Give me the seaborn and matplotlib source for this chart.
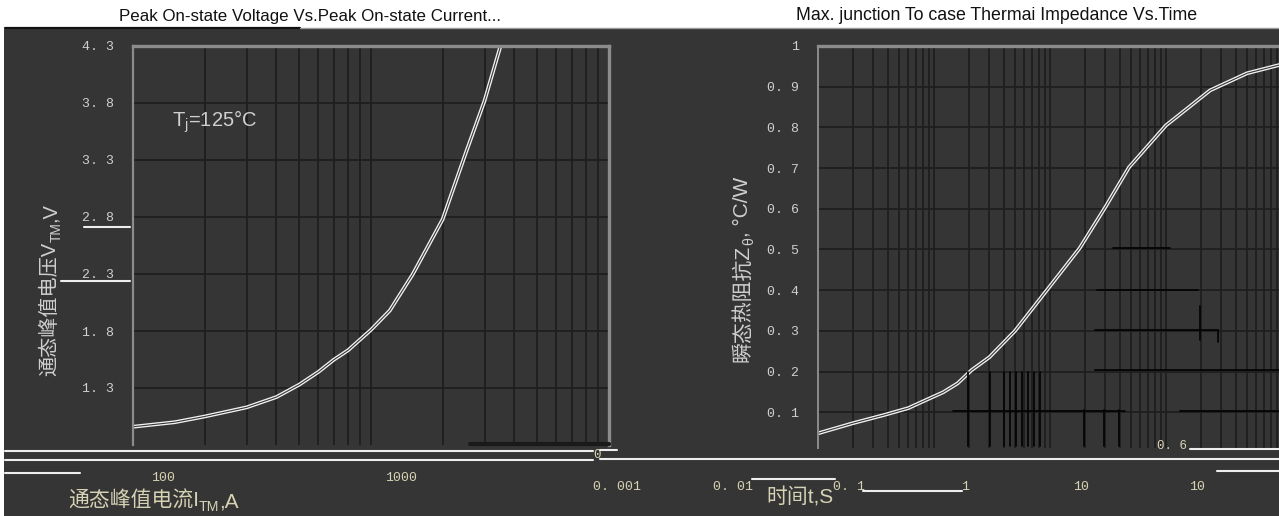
import matplotlib
matplotlib.use("Agg")
import matplotlib.pyplot as plt
import matplotlib.transforms as mtransforms
from matplotlib.lines import Line2D
from matplotlib.patches import Rectangle
from matplotlib.ticker import LogLocator, NullFormatter
import pandas as pd
import seaborn as sns

# Peak on-state voltage vs. peak on-state current, Tj = 125 °C
current_a = [100, 150, 200, 300, 400, 500, 600, 700, 800, 1000, 1200, 1500, 2000, 2500, 3000, 3500]
voltage_v = [0.96, 1.00, 1.05, 1.13, 1.22, 1.33, 1.44, 1.55, 1.63, 1.81, 1.98, 2.30, 2.78, 3.36, 3.82, 4.30]

# Transient thermal impedance, junction to case
time_s = [0.1, 0.2, 0.37, 0.6, 0.84, 1.2, 1.6, 2.1, 3.0, 5.0, 9.4, 18, 30, 48, 100, 240, 500, 1000]
zth_cw = [0.048, 0.073, 0.093, 0.110, 0.129, 0.149, 0.171, 0.203, 0.235, 0.30, 0.40, 0.503,
          0.604, 0.702, 0.805, 0.891, 0.933, 0.955]

v_ticks = [1.3, 1.8, 2.3, 2.8, 3.3, 3.8, 4.3]
v_labels = ["1. 3", "1. 8", "2. 3", "2. 8", "3. 3", "3. 8", "4. 3"]
i_ticks = [100, 1000]
i_labels = ["100", "1000"]
z_ticks = [0.1, 0.2, 0.3, 0.4, 0.5, 0.6, 0.7, 0.8, 0.9, 1.0]
z_labels = ["0. 1", "0. 2", "0. 3", "0. 4", "0. 5", "0. 6", "0. 7", "0. 8", "0. 9", "1"]
t_ticks = [0.001, 0.01, 0.1, 1, 10, 100]
t_labels = ["0. 001", "0. 01", "0. 1", "1", "10", "10"]

# axis titles as (main, subscript, tail) pieces
v_axis = ("通态峰值电压V", "TM", ",V")
i_axis = ("通态峰值电流I", "TM", ",A")
z_axis = ("瞬态热阻抗Z", "θ", ", °C/W")
t_axis = "时间t,S"

title_left = "Peak On-state Voltage Vs.Peak On-state Current..."
title_right = "Max. junction To case Thermai Impedance Vs.Time"

sns.set_theme(style="dark")
plt.rcParams["font.family"] = ["Liberation Sans", "Noto Sans CJK SC", "DejaVu Sans"]
plt.rcParams["mathtext.fontset"] = "custom"
plt.rcParams["mathtext.rm"] = "Liberation Sans"
plt.rcParams["mathtext.it"] = "Liberation Sans"

W, H = 1279, 516
DPI = 100
BG = "#353535"
GRID = "#1e1e1e"
FRAME = "#8c8c8c"
CURVE = "#f2f2f2"
TICKTXT = "#d6d2b4"
YTXT = "#cfcfcf"

fig = plt.figure(figsize=(W / DPI, H / DPI), dpi=DPI, facecolor="white")


def fx(px):
    return px / W


def fy(py):
    return 1 - py / H


# dark scanned sheet below the title strip
fig.add_artist(Rectangle((fx(4), 0), 1, fy(29), transform=fig.transFigure,
                         facecolor=BG, edgecolor="none", zorder=0))

ax1 = fig.add_axes([fx(133), fy(445), fx(609 - 133), (445 - 46) / H])
ax2 = fig.add_axes([fx(818), fy(448), fx(1282 - 818), (448 - 46) / H])

df_v = pd.DataFrame({"I": current_a, "V": voltage_v})
df_z = pd.DataFrame({"t": time_s, "Z": zth_cw})

for ax in (ax1, ax2):
    ax.set_facecolor(BG)
    ax.set_xscale("log")
    ax.xaxis.set_major_locator(LogLocator(base=10))
    ax.xaxis.set_minor_locator(LogLocator(base=10, subs=range(2, 10)))
    ax.xaxis.set_minor_formatter(NullFormatter())
    ax.grid(True, which="both", axis="x", color=GRID, lw=1.3)
    ax.grid(True, which="major", axis="y", color=GRID, lw=1.3)
    ax.tick_params(axis="x", which="both", length=0, labelbottom=False)
    ax.tick_params(axis="y", which="major", direction="in", length=5, width=1.3,
                   color="#111111", labelcolor=YTXT, labelsize=9.5)


def vertical_label(x_px, y_bottom_px, parts, color, size):
    main, sub, tail = parts
    r = fig.canvas.get_renderer()
    t1 = fig.text(fx(x_px), fy(y_bottom_px), main, rotation=90, ha="center", va="bottom",
                  color=color, fontsize=size)
    b1 = t1.get_window_extent(r)
    t2 = fig.text(b1.x1 + 4, b1.y1, sub, rotation=90, ha="right", va="bottom", color=color,
                  fontsize=size * 0.68, transform=mtransforms.IdentityTransform())
    b2 = t2.get_window_extent(r)
    fig.text(b1.x1, b2.y1, tail, rotation=90, ha="right", va="bottom", color=color,
             fontsize=size, transform=mtransforms.IdentityTransform())


def horizontal_label(x_left_px, y_px, parts, color, size):
    main, sub, tail = parts
    r = fig.canvas.get_renderer()
    t1 = fig.text(fx(x_left_px), fy(y_px), main, ha="left", va="baseline",
                  color=color, fontsize=size)
    b1 = t1.get_window_extent(r)
    base_y = fig.transFigure.transform((0, fy(y_px)))[1]
    t2 = fig.text(b1.x1, base_y - 4, sub, ha="left", va="baseline", color=color,
                  fontsize=size * 0.68, transform=mtransforms.IdentityTransform())
    b2 = t2.get_window_extent(r)
    fig.text(b2.x1, base_y, tail, ha="left", va="baseline", color=color, fontsize=size,
             transform=mtransforms.IdentityTransform())


# left panel: double-stroke curve
sns.lineplot(data=df_v, x="I", y="V", ax=ax1, color=CURVE, lw=2.7, sort=False)
sns.lineplot(data=df_v, x="I", y="V", ax=ax1, color=BG, lw=0.8, sort=False)
ax1.set_xlim(100, 10000)
ax1.set_ylim(0.80, 4.30)
ax1.set_yticks(v_ticks, v_labels, family="Liberation Mono")
ax1.tick_params(axis="y", pad=14)
ax1.spines["top"].set(color=FRAME, lw=2.4, visible=True)
ax1.spines["right"].set(color=FRAME, lw=2.4, visible=True)
ax1.spines["left"].set(color=FRAME, lw=1.6, visible=True)
ax1.spines["bottom"].set_visible(False)
ax1.set_xlabel("")
ax1.set_ylabel("")
ax1.text(0.082, 0.81, r"T$_\mathregular{j}$=125°C", transform=ax1.transAxes, color="#cfcfcf",
         fontsize=14.5, ha="left", va="center")

off1 = mtransforms.ScaledTranslation(30 / DPI, 0, fig.dpi_scale_trans)
tr1 = mtransforms.blended_transform_factory(ax1.transData, ax1.transAxes) + off1
for val, lab in zip(i_ticks, i_labels):
    ax1.text(val, -0.083, lab, transform=tr1, color=TICKTXT, fontsize=9.5,
             family="Liberation Mono", ha="center", va="center")

# right panel
sns.lineplot(data=df_z, x="t", y="Z", ax=ax2, color=CURVE, lw=2.7, sort=False)
sns.lineplot(data=df_z, x="t", y="Z", ax=ax2, color=BG, lw=0.8, sort=False)
ax2.set_xlim(0.1, 1000)
ax2.set_ylim(0.012, 1.0)
ax2.set_yticks(z_ticks, z_labels, family="Liberation Mono")
ax2.tick_params(axis="y", pad=14)
ax2.spines["top"].set(color=FRAME, lw=2.4, visible=True)
ax2.spines["left"].set(color=FRAME, lw=1.4, visible=True)
ax2.spines["right"].set_visible(False)
ax2.spines["bottom"].set_visible(False)
ax2.set_xlabel("")
ax2.set_ylabel("")
ax2.text(-0.039, -0.124, t_axis, transform=ax2.transAxes, color=TICKTXT,
         fontsize=15, ha="center", va="center")

off2 = mtransforms.ScaledTranslation(31 / DPI, 0, fig.dpi_scale_trans)
tr2 = mtransforms.blended_transform_factory(ax2.transData, ax2.transAxes) + off2
for val, lab in zip(t_ticks, t_labels):
    ax2.text(val, -0.097, lab, transform=tr2, color=TICKTXT, fontsize=9.5,
             family="Liberation Mono", ha="center", va="center")

# axis titles
vertical_label(50, 376, v_axis, YTXT, 14.5)
vertical_label(742, 362, z_axis, YTXT, 15)
horizontal_label(68, 507, i_axis, TICKTXT, 15)

# titles on the white strip
fig.text(fx(310), fy(16), title_left, ha="center", va="center", fontsize=12.2, color="#111111")
fig.text(fx(997), fy(15), title_right, ha="center", va="center", fontsize=12.8, color="#111111")

# stray marks of the scanned sheet
fig.text(fx(597), fy(455), "0", ha="center", va="center", fontsize=9, color=TICKTXT,
         family="Liberation Mono")
fig.text(fx(1172), fy(446), "0. 6", ha="center", va="center", fontsize=9, color=TICKTXT,
         family="Liberation Mono")


def seg(p0, p1, color, lw):
    fig.add_artist(Line2D([fx(p0[0]), fx(p1[0])], [fy(p0[1]), fy(p1[1])],
                          transform=fig.transFigure, color=color, lw=lw, zorder=5))


seg((5, 28), (300, 28), "#111111", 1.6)
seg((300, 28), (1279, 28), "#9a9a9a", 1.0)
for a, b in [((5, 451), (593, 451)), ((5, 460), (593, 460)), ((600, 459), (1279, 459)),
             ((600, 450), (617, 450)), ((5, 473), (80, 473)), ((752, 479), (835, 479)),
             ((863, 491), (962, 491)), ((1190, 449), (1279, 449)), ((1217, 471), (1279, 471)),
             ((84, 227), (130, 227)), ((61, 281), (130, 281))]:
    seg(a, b, "#eeeeee", 1.5)
for a, b in [((1113, 248), (1170, 248)), ((1097, 290), (1198, 290)), ((1095, 330), (1218, 330)),
             ((1095, 370), (1279, 370)), ((953, 411), (1125, 411)), ((1180, 411), (1279, 411)),
             ((1200, 306), (1200, 340)), ((1218, 330), (1218, 342))]:
    seg(a, b, "#050505", 1.3)
for x in [968, 990, 1004, 1010, 1016, 1022, 1028, 1034, 1040]:
    seg((x, 372), (x, 446), "#050505", 1.3)
for x in [1084, 1104, 1119]:
    seg((x, 410), (x, 446), "#050505", 1.3)
seg((470, 444), (609, 444), "#1a1a1a", 3.0)

fig.savefig("out.png", dpi=DPI, facecolor=fig.get_facecolor())
